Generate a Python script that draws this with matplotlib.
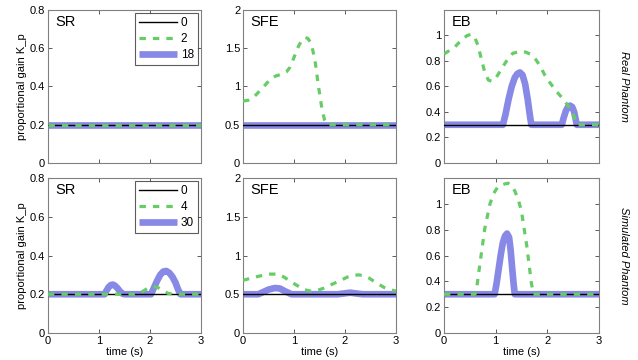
import matplotlib
matplotlib.use("Agg")
import matplotlib.pyplot as plt

plt.rcParams['font.family'] = ['Liberation Sans', 'DejaVu Sans']

# ---------------- data ----------------
# Row 1: Real Phantom
sr1_black_t = [0, 3]; sr1_black_v = [0.2, 0.2]
sr1_green_t = [0, 3]; sr1_green_v = [0.2, 0.2]
sr1_blue_t = [0, 3]; sr1_blue_v = [0.2, 0.2]

sfe1_black_t = [0, 3]; sfe1_black_v = [0.5, 0.5]
sfe1_green_t = [0, 0.10, 0.21, 0.31, 0.41, 0.54, 0.65, 0.76, 0.85, 0.92, 1.00, 1.09, 1.16, 1.22, 1.27, 1.32, 1.37, 1.42, 1.48, 1.55, 1.60, 1.65, 3]
sfe1_green_v = [0.81, 0.82, 0.86, 0.93, 1.0, 1.10, 1.14, 1.16, 1.19, 1.25, 1.38, 1.53, 1.61, 1.64, 1.63, 1.58, 1.47, 1.30, 1.0, 0.70, 0.56, 0.5, 0.5]
sfe1_blue_t = [0, 3]; sfe1_blue_v = [0.5, 0.5]

eb1_black_t = [0, 3]; eb1_black_v = [0.3, 0.3]
eb1_green_t = [0, 0.21, 0.35, 0.45, 0.53, 0.60, 0.66, 0.72, 0.79, 0.86, 0.93, 1.01, 1.10, 1.21, 1.33, 1.47, 1.58, 1.69, 1.78, 1.86, 1.95, 2.05, 2.18, 2.31, 2.40, 2.47, 2.52, 2.57, 3]
eb1_green_v = [0.855, 0.91, 0.97, 1.0, 1.01, 0.98, 0.92, 0.82, 0.71, 0.65, 0.64, 0.67, 0.73, 0.80, 0.86, 0.875, 0.87, 0.85, 0.81, 0.76, 0.69, 0.63, 0.56, 0.5, 0.45, 0.41, 0.36, 0.3, 0.3]
eb1_blue_t = [0, 1.14, 1.19, 1.25, 1.31, 1.37, 1.42, 1.47, 1.52, 1.57, 1.62, 1.66, 1.69, 2.28, 2.32, 2.36, 2.40, 2.44, 2.48, 2.52, 2.55, 2.57, 3]
eb1_blue_v = [0.3, 0.3, 0.38, 0.5, 0.6, 0.67, 0.70, 0.71, 0.69, 0.62, 0.5, 0.38, 0.3, 0.3, 0.36, 0.41, 0.44, 0.45, 0.44, 0.40, 0.34, 0.3, 0.3]

# Row 2: Simulated Phantom
sr2_black_t = [0, 3]; sr2_black_v = [0.2, 0.2]
sr2_green_t = [0, 1.70, 1.83, 1.95, 2.05, 2.15, 2.25, 2.35, 2.45, 3]
sr2_green_v = [0.2, 0.2, 0.21, 0.23, 0.24, 0.235, 0.22, 0.205, 0.2, 0.2]
sr2_blue_t = [0, 1.11, 1.15, 1.19, 1.23, 1.27, 1.31, 1.36, 1.41, 1.46, 1.50, 2.02, 2.08, 2.14, 2.20, 2.26, 2.32, 2.38, 2.44, 2.50, 2.55, 2.60, 3]
sr2_blue_v = [0.2, 0.2, 0.22, 0.237, 0.247, 0.25, 0.245, 0.232, 0.215, 0.203, 0.2, 0.2, 0.235, 0.27, 0.3, 0.317, 0.32, 0.31, 0.29, 0.26, 0.225, 0.2, 0.2]

sfe2_black_t = [0, 3]; sfe2_black_v = [0.5, 0.5]
sfe2_green_t = [0, 0.23, 0.49, 0.68, 0.81, 0.94, 1.07, 1.20, 1.33, 1.46, 1.59, 1.75, 1.92, 2.04, 2.14, 2.26, 2.37, 2.47, 2.56, 2.66, 2.76, 2.88, 3]
sfe2_green_v = [0.68, 0.72, 0.76, 0.76, 0.72, 0.66, 0.61, 0.56, 0.54, 0.55, 0.58, 0.63, 0.68, 0.72, 0.74, 0.75, 0.74, 0.71, 0.67, 0.63, 0.59, 0.56, 0.54]
sfe2_blue_t = [0, 0.30, 0.40, 0.50, 0.62, 0.72, 0.82, 0.95, 1.85, 1.98, 2.10, 2.22, 2.35, 3]
sfe2_blue_v = [0.5, 0.5, 0.53, 0.56, 0.58, 0.575, 0.54, 0.5, 0.5, 0.51, 0.52, 0.51, 0.5, 0.5]

eb2_black_t = [0, 3]; eb2_black_v = [0.3, 0.3]
eb2_green_t = [0, 0.60, 0.63, 0.69, 0.79, 0.89, 0.96, 1.04, 1.14, 1.24, 1.31, 1.37, 1.44, 1.50, 1.60, 1.69, 1.73, 3]
eb2_green_v = [0.3, 0.3, 0.34, 0.52, 0.81, 1.0, 1.08, 1.13, 1.15, 1.16, 1.14, 1.10, 1.03, 0.94, 0.68, 0.39, 0.3, 0.3]
eb2_blue_t = [0, 0.98, 1.02, 1.06, 1.10, 1.14, 1.18, 1.22, 1.26, 1.29, 1.32, 1.35, 1.37, 3]
eb2_blue_v = [0.3, 0.3, 0.39, 0.50, 0.61, 0.70, 0.75, 0.77, 0.74, 0.64, 0.50, 0.37, 0.3, 0.3]

row_labels = ['Real Phantom', 'Simulated Phantom']
panel_titles = ['SR', 'SFE', 'EB']
legend_row1 = ['0', '2', '18']
legend_row2 = ['0', '4', '30']

ylims = [0.8, 2.0, 1.2]
yticks = [[0, 0.2, 0.4, 0.6, 0.8], [0, 0.5, 1, 1.5, 2], [0, 0.2, 0.4, 0.6, 0.8, 1]]
yticklabels = [['0', '0.2', '0.4', '0.6', '0.8'], ['0', '0.5', '1', '1.5', '2'],
               ['0', '0.2', '0.4', '0.6', '0.8', '1']]
xticks = [0, 1, 2, 3]

panels = [
    [(sr1_black_t, sr1_black_v, sr1_green_t, sr1_green_v, sr1_blue_t, sr1_blue_v),
     (sfe1_black_t, sfe1_black_v, sfe1_green_t, sfe1_green_v, sfe1_blue_t, sfe1_blue_v),
     (eb1_black_t, eb1_black_v, eb1_green_t, eb1_green_v, eb1_blue_t, eb1_blue_v)],
    [(sr2_black_t, sr2_black_v, sr2_green_t, sr2_green_v, sr2_blue_t, sr2_blue_v),
     (sfe2_black_t, sfe2_black_v, sfe2_green_t, sfe2_green_v, sfe2_blue_t, sfe2_blue_v),
     (eb2_black_t, eb2_black_v, eb2_green_t, eb2_green_v, eb2_blue_t, eb2_blue_v)],
]

# ---------------- figure ----------------
W, H = 638, 360
fig = plt.figure(figsize=(W / 100, H / 100), dpi=100)

col_x = [(48, 201), (243, 396), (444, 599)]
row_y = [(10, 163), (178, 333)]

GREEN = '#66CC66'
BLUE = '#8888E6'
SPINE = '#808080'

for r in range(2):
    for c in range(3):
        x0, x1 = col_x[c]
        y0, y1 = row_y[r]
        ax = fig.add_axes([x0 / W, 1 - y1 / H, (x1 - x0) / W, (y1 - y0) / H])
        bt, bv, gt, gv, ut, uv = panels[r][c]
        l_black, = ax.plot(bt, bv, color='black', lw=1.0, zorder=3)
        l_green, = ax.plot(gt, gv, color=GREEN, lw=2.3, ls=(0, (2.0, 2.2)), zorder=4)
        l_blue, = ax.plot(ut, uv, color=BLUE, lw=4.8, zorder=2,
                          solid_capstyle='butt', solid_joinstyle='round')
        ax.set_xlim(0, 3)
        ax.set_ylim(0, ylims[c])
        ax.set_xticks(xticks)
        ax.set_yticks(yticks[c])
        ax.set_yticklabels(yticklabels[c])
        ax.tick_params(direction='in', top=True, right=True, labelsize=8,
                       length=3, width=0.6, color='#404040', pad=2)
        for s in ax.spines.values():
            s.set_color(SPINE)
            s.set_linewidth(0.8)
        if r == 0:
            ax.set_xticklabels([])
        else:
            ax.set_xticklabels(['0', '1', '2', '3'])
            ax.set_xlabel('time (s)', fontsize=8, labelpad=1)
        ax.text(0.05, 0.97, panel_titles[c], transform=ax.transAxes,
                fontsize=10.5, va='top', ha='left')
        if c == 0:
            ax.set_ylabel('proportional gain K_p', fontsize=8, labelpad=2)
            labs = legend_row1 if r == 0 else legend_row2
            leg = ax.legend([l_black, l_green, l_blue], labs, loc='upper right',
                            fontsize=8.5, frameon=True, fancybox=False,
                            handlelength=3.2, handletextpad=0.3,
                            borderpad=0.35, labelspacing=0.35,
                            borderaxespad=0.25)
            leg.get_frame().set_edgecolor('#333333')
            leg.get_frame().set_linewidth(0.8)
        if c == 2:
            ax.text(1.16, 0.5, row_labels[r], transform=ax.transAxes,
                    rotation=-90, style='italic', fontsize=8,
                    va='center', ha='center')

fig.savefig('out.png', dpi=100)
